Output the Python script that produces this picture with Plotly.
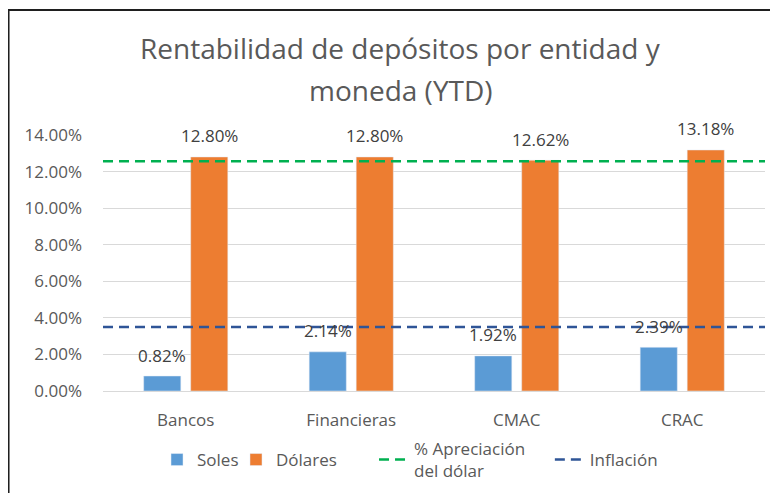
import plotly.graph_objects as go

categories = ["Bancos", "Financieras", "CMAC", "CRAC"]
soles = [0.0082, 0.0214, 0.0192, 0.0239]
dolares = [0.1280, 0.1280, 0.1262, 0.1318]
apreciacion_dolar = 0.1256
inflacion = 0.0350
y_ticks = [0, 0.02, 0.04, 0.06, 0.08, 0.10, 0.12, 0.14]

title_line1 = "Rentabilidad de depósitos por entidad y"
title_line2 = "moneda (YTD)"

FONT = "Open Sans"
TXT = "#595959"
C_SOLES = "#5B9BD5"
C_DOL = "#ED7D31"
C_GREEN = "#00B050"
C_BLUE = "#2F5597"

fig = go.Figure()
fig.add_trace(go.Bar(name="Soles", x=categories, y=soles, marker_color=C_SOLES,
                     legend="legend"))
fig.add_trace(go.Bar(name="Dólares", x=categories, y=dolares, marker_color=C_DOL,
                     legend="legend2"))
fig.add_trace(go.Scatter(name="% Apreciación<br>del dólar", x=[0, 1],
                         y=[apreciacion_dolar, apreciacion_dolar], xaxis="x2",
                         mode="lines", legend="legend3",
                         line=dict(color=C_GREEN, width=2.5, dash="10px,6px")))
fig.add_trace(go.Scatter(name="Inflación", x=[0, 1], y=[inflacion, inflacion], xaxis="x2",
                         mode="lines", legend="legend4",
                         line=dict(color=C_BLUE, width=2.5, dash="10px,6px")))

annotations = []
for series, shift in ((soles, -23.5), (dolares, 23.5)):
    for c, v in zip(categories, series):
        annotations.append(dict(x=c, y=v, xref="x", yref="y", text=f"{v*100:.2f}%",
                                showarrow=False, xshift=shift, yshift=21, yanchor="middle",
                                font=dict(family=FONT, size=17, color="#404040")))
annotations.append(dict(x=0.45, y=1.34, xref="paper", yref="paper", text=title_line1,
                        showarrow=False, yanchor="middle", xanchor="center",
                        font=dict(family=FONT, size=28, color=TXT)))
annotations.append(dict(x=0.45, y=1.176, xref="paper", yref="paper", text=title_line2,
                        showarrow=False, yanchor="middle", xanchor="center",
                        font=dict(family=FONT, size=28, color=TXT)))

leg_common = dict(orientation="h", yanchor="middle", y=-0.2695, xanchor="left",
                  font=dict(family=FONT, size=17, color=TXT), bgcolor="rgba(0,0,0,0)",
                  valign="middle")

# the page places the plot 8px in from the top-left corner
fig.update_layout(
    width=770, height=485,
    margin=dict(l=95, r=13, t=127, b=102, autoexpand=False),
    paper_bgcolor="white", plot_bgcolor="white",
    font=dict(family=FONT, size=17, color=TXT),
    barmode="group", bargap=0.432, bargroupgap=0.21,
    xaxis=dict(showgrid=False, showline=True, linecolor="#D9D9D9", linewidth=1,
               tickfont=dict(size=17, color=TXT), ticks="", ticklabelstandoff=14),
    xaxis2=dict(overlaying="x", range=[0, 1], visible=False),
    yaxis=dict(range=[0, 0.14], tickvals=y_ticks, tickformat=".2%",
               showgrid=True, gridcolor="#D9D9D9", gridwidth=1, zeroline=False,
               showline=False, tickfont=dict(size=17, color=TXT), ticks="",
               ticklabelstandoff=20),
    legend=dict(leg_common, x=0.0816),
    legend2=dict(leg_common, x=0.2009),
    legend3=dict(leg_common, x=0.4094),
    legend4=dict(leg_common, x=0.675),
    showlegend=True,
    annotations=annotations,
    shapes=[dict(type="rect", xref="paper", yref="paper", x0=-0.1427, x1=1.04,
                 y0=-0.43, y1=1.488, line=dict(color="#1F1F1F", width=2),
                 fillcolor="rgba(0,0,0,0)", layer="above")],
)

fig.write_html("out.html")
